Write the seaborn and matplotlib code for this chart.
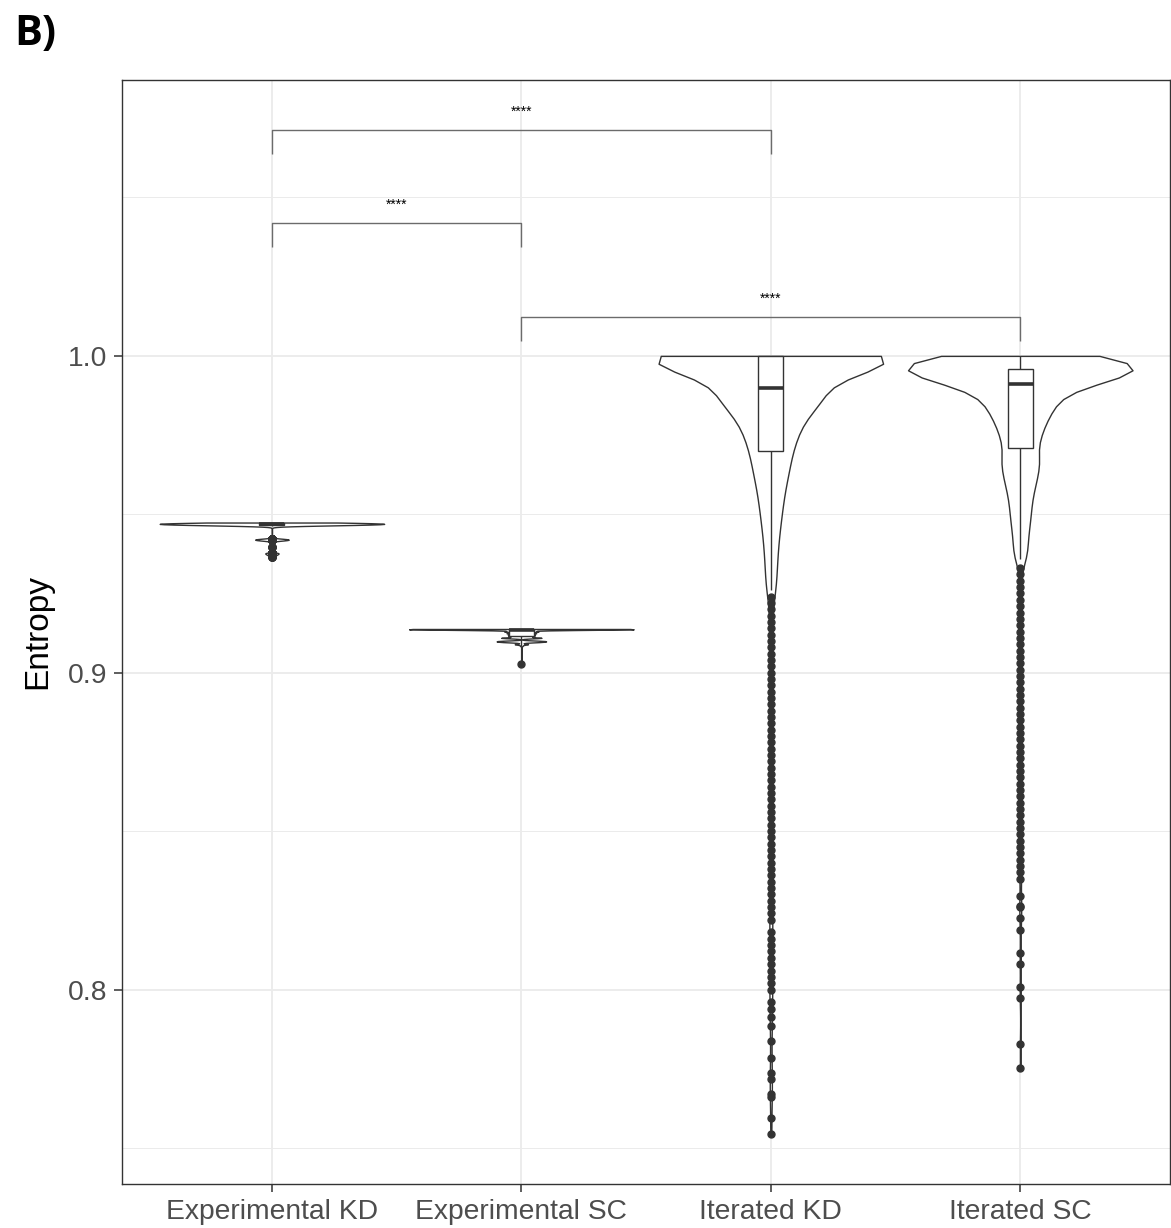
import numpy as np
import pandas as pd
import seaborn as sns
import matplotlib.pyplot as plt
from matplotlib.ticker import FixedLocator

groups = ["Experimental KD", "Experimental SC", "Iterated KD", "Iterated SC"]

# entropy values, with the number of cells at each value
exp_kd_vals = [0.9474, 0.9472, 0.9470, 0.9468, 0.9466, 0.9464,
               0.9421, 0.9418, 0.9398, 0.9377, 0.9372, 0.9366]
exp_kd_counts = [120, 180, 220, 180, 140, 60,
                 60, 40, 5, 30, 20, 6]

exp_sc_vals = [0.9138, 0.9137, 0.9135, 0.9130, 0.9125, 0.9120, 0.9115,
               0.9110, 0.9100, 0.9097, 0.9090, 0.9085, 0.9027]
exp_sc_counts = [200, 130, 90, 50, 45, 40, 40,
                 60, 60, 50, 20, 4, 1]

it_kd_vals = [1.000, 0.999, 0.998, 0.997, 0.996, 0.995, 0.994, 0.993, 0.992,
              0.991, 0.990, 0.988, 0.986, 0.984, 0.982, 0.980, 0.978, 0.976,
              0.974, 0.972, 0.970, 0.967, 0.964, 0.961, 0.958, 0.955, 0.952,
              0.949, 0.946, 0.943, 0.940, 0.937, 0.934, 0.931, 0.928, 0.926]
it_kd_counts = [255, 21, 21, 20, 20, 20, 19, 17, 17,
                14, 12, 41, 37, 24, 21, 19, 17, 16,
                15, 14, 14, 18, 16, 14, 12, 11, 10,
                9, 8, 7, 6, 6, 5, 5, 4, 4]
it_kd_tail = [0.924, 0.922, 0.920, 0.918, 0.916, 0.914, 0.912, 0.910, 0.908,
              0.906, 0.904, 0.902, 0.900, 0.898, 0.896, 0.894, 0.892, 0.890,
              0.888, 0.886, 0.884, 0.882, 0.880, 0.878, 0.876, 0.874, 0.872,
              0.870, 0.868, 0.866, 0.864, 0.862, 0.860, 0.858, 0.856, 0.854,
              0.852, 0.850, 0.848, 0.846, 0.844, 0.842, 0.840, 0.838, 0.836,
              0.834, 0.832, 0.830, 0.828, 0.826, 0.824, 0.822, 0.818, 0.816,
              0.814, 0.812, 0.810, 0.808, 0.806, 0.804, 0.802, 0.800,
              0.7962, 0.7940, 0.7912, 0.7886, 0.7836, 0.7785, 0.7738, 0.7716,
              0.7669, 0.7662, 0.7596, 0.7543]

it_sc_vals = [1.000, 0.999, 0.998, 0.997, 0.996, 0.995, 0.994, 0.993, 0.992,
              0.991, 0.989, 0.987, 0.985, 0.983, 0.981, 0.979, 0.977, 0.975,
              0.973, 0.971, 0.968, 0.965, 0.962, 0.959, 0.956, 0.953, 0.950,
              0.947, 0.944, 0.941, 0.938, 0.936]
it_sc_counts = [70, 55, 58, 58, 55, 52, 50, 45, 40,
                35, 36, 33, 30, 27, 24, 21, 19, 17,
                16, 15, 26, 24, 21, 19, 15, 14, 13,
                12, 10, 9, 8, 7]
it_sc_tail = [0.933, 0.931, 0.929, 0.927, 0.925, 0.923, 0.921, 0.919, 0.917,
              0.915, 0.913, 0.911, 0.909, 0.907, 0.905, 0.903, 0.901, 0.899,
              0.897, 0.895, 0.893, 0.891, 0.889, 0.887, 0.885, 0.883, 0.881,
              0.879, 0.877, 0.875, 0.873, 0.871, 0.869, 0.867, 0.865, 0.863,
              0.861, 0.859, 0.857, 0.855, 0.853, 0.851, 0.849, 0.847, 0.845,
              0.843, 0.841, 0.839, 0.837, 0.835,
              0.8296, 0.8263, 0.8260, 0.8225, 0.8188, 0.8116, 0.8080, 0.8009,
              0.7972, 0.7827, 0.7751]

# significance brackets: (left group, right group, bracket height)
comparisons = [(0, 2, 1.0713), (0, 1, 1.0420), (1, 3, 1.0123)]
sig_label = "****"


def expand(vals, counts, tail=()):
    return list(np.repeat(vals, counts)) + list(tail)


samples = {
    groups[0]: expand(exp_kd_vals, exp_kd_counts),
    groups[1]: expand(exp_sc_vals, exp_sc_counts),
    groups[2]: expand(it_kd_vals, it_kd_counts, it_kd_tail),
    groups[3]: expand(it_sc_vals, it_sc_counts, it_sc_tail),
}
df = pd.DataFrame([(g, v) for g in groups for v in samples[g]],
                  columns=["group", "entropy"])

sns.set_theme(style="whitegrid")
plt.rcParams['font.family'] = ['Liberation Sans', 'DejaVu Sans']

fig = plt.figure(figsize=(11.71, 12.28), dpi=100)
ax = fig.add_axes([0.1044, 0.0358, 0.8947, 0.8991])

dark = '#333333'
sns.violinplot(data=df, x="group", y="entropy", order=groups, ax=ax,
               color='white', linecolor=dark, linewidth=1.0,
               density_norm='width', cut=0, inner=None, width=0.9,
               bw_adjust=0.4)
sns.boxplot(data=df, x="group", y="entropy", order=groups, ax=ax,
            color='white', linecolor=dark, linewidth=1.0, width=0.1,
            showcaps=False,
            medianprops=dict(linewidth=2.6, color=dark),
            flierprops=dict(marker='o', markerfacecolor=dark,
                            markeredgecolor=dark, markersize=5))

for i, j, h in comparisons:
    leg = 0.0075
    ax.plot([i, i, j, j], [h - leg, h, h, h - leg], color='#6b6b6b',
            lw=1.0, solid_capstyle='butt')
    ax.text((i + j) / 2, h + 0.0035, sig_label, ha='center', va='bottom',
            fontsize=10, color='black')

ax.set_xlim(-0.6, 3.6)
ax.set_ylim(0.7386, 1.0871)
ax.set_yticks([0.8, 0.9, 1.0])
ax.set_yticklabels(["0.8", "0.9", "1.0"])
ax.yaxis.set_minor_locator(FixedLocator([0.75, 0.85, 0.95, 1.05]))

ax.set_axisbelow(True)
ax.grid(True, which='major', axis='both', color='#EBEBEB', lw=1.3)
ax.grid(True, which='minor', axis='y', color='#EBEBEB', lw=0.7)

for sp in ax.spines.values():
    sp.set_color(dark)
    sp.set_linewidth(1.0)
    sp.set_visible(True)

ax.tick_params(which='major', length=6, width=1.1, color=dark,
               labelcolor='#4D4D4D', labelsize=20.3, pad=5,
               bottom=True, left=True)
ax.tick_params(which='minor', length=0)

ax.set_xlabel("")
ax.set_ylabel("Entropy", fontsize=24, color='black', labelpad=10)

fig.text(0.012, 0.963, "B)", fontsize=30, fontweight='bold', color='black',
         family=['Open Sans', 'DejaVu Sans'], ha='left', va='baseline')

fig.savefig("out.png", dpi=100, facecolor='white')
